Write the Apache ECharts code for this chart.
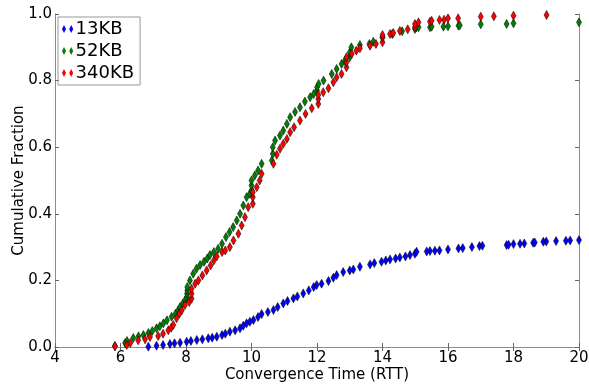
<!DOCTYPE html>
<html>
<head>
<meta charset="utf-8">
<script src="https://cdn.jsdelivr.net/npm/echarts@6/dist/echarts.min.js"></script>
<style>
  html, body { margin: 0; padding: 0; background: #fff; }
  #chart { width: 589px; height: 386px; }
</style>
</head>
<body>
<div id="chart"></div>
<script>
// values: [convergence time (RTT), cumulative fraction]
const names = ['13KB', '52KB', '340KB'];
const colors = ['#0000ff', '#008000', '#ff0000'];

const kb13 = [
  [6.85,0.001],[7.1,0.004],[7.3,0.006],[7.51,0.009],[7.65,0.011],[7.82,0.013],[8.02,0.016],[8.15,0.018],
  [8.33,0.021],[8.5,0.023],[8.68,0.026],[8.8,0.028],[8.94,0.031],[9.1,0.036],[9.2,0.04],[9.34,0.046],
  [9.5,0.05],[9.65,0.056],[9.75,0.064],[9.85,0.071],[9.95,0.076],[10.06,0.081],[10.2,0.09],[10.31,0.099],
  [10.5,0.105],[10.67,0.111],[10.8,0.12],[10.97,0.131],[11.1,0.138],[11.28,0.146],[11.4,0.152],[11.58,0.161],
  [11.75,0.17],[11.9,0.18],[11.99,0.186],[12.14,0.19],[12.35,0.198],[12.5,0.208],[12.6,0.216],[12.8,0.225],
  [13.0,0.23],[13.11,0.233],[13.31,0.241],[13.62,0.248],[13.75,0.252],[13.97,0.256],[14.1,0.26],[14.23,0.263],
  [14.4,0.266],[14.53,0.269],[14.7,0.272],[14.84,0.276],[14.99,0.28],[15.04,0.286],[15.35,0.287],[15.45,0.288],
  [15.6,0.289],[15.74,0.29],[16.0,0.293],[16.32,0.296],[16.45,0.297],[16.73,0.3],[16.96,0.303],[17.05,0.304],
  [17.79,0.306],[17.85,0.307],[18.0,0.309],[18.2,0.31],[18.33,0.311],[18.6,0.313],[18.65,0.314],[18.91,0.316],
  [19.0,0.317],[19.3,0.318],[19.6,0.319],[19.73,0.32],[20.0,0.321]
];

const kb52 = [
  [5.83,0.003],[6.14,0.012],[6.2,0.018],[6.39,0.027],[6.55,0.032],[6.7,0.036],[6.85,0.042],[6.97,0.048],
  [7.1,0.056],[7.2,0.062],[7.31,0.071],[7.42,0.08],[7.56,0.091],[7.68,0.1],[7.76,0.11],[7.82,0.12],
  [7.9,0.13],[7.97,0.14],[8.03,0.15],[8.03,0.16],[8.04,0.17],[8.04,0.18],[8.12,0.2],[8.22,0.22],
  [8.32,0.235],[8.43,0.246],[8.55,0.256],[8.65,0.266],[8.73,0.276],[8.85,0.285],[8.98,0.295],[9.1,0.31],
  [9.22,0.33],[9.33,0.345],[9.44,0.36],[9.55,0.38],[9.65,0.4],[9.75,0.425],[9.85,0.45],[9.95,0.46],
  [10.0,0.47],[10.0,0.485],[10.0,0.5],[10.1,0.515],[10.2,0.53],[10.31,0.55],[10.62,0.56],[10.65,0.58],
  [10.65,0.6],[10.72,0.62],[10.87,0.635],[10.97,0.65],[11.08,0.67],[11.18,0.69],[11.33,0.706],[11.48,0.72],
  [11.63,0.737],[11.79,0.75],[11.9,0.76],[12.0,0.77],[12.0,0.78],[12.05,0.79],[12.2,0.8],[12.45,0.82],
  [12.6,0.835],[12.75,0.85],[12.85,0.86],[13.0,0.87],[13.0,0.885],[13.05,0.9],[13.31,0.907],[13.6,0.91],
  [13.72,0.917],[14.0,0.93],[14.3,0.94],[14.6,0.948],[14.99,0.955],[15.04,0.96],[15.1,0.96],[15.45,0.96],
  [15.5,0.962],[15.86,0.962],[16.0,0.963],[16.32,0.965],[16.36,0.966],[17.0,0.969],[17.79,0.97],[18.0,0.972],
  [20.0,0.975]
];

const kb340 = [
  [5.83,0.002],[6.19,0.006],[6.3,0.012],[6.54,0.02],[6.75,0.023],[6.9,0.03],[7.15,0.033],[7.3,0.04],
  [7.46,0.05],[7.55,0.058],[7.61,0.066],[7.71,0.086],[7.8,0.1],[7.87,0.11],[7.97,0.126],[8.1,0.135],
  [8.17,0.145],[8.17,0.16],[8.17,0.175],[8.28,0.19],[8.38,0.2],[8.5,0.215],[8.63,0.23],[8.75,0.245],
  [8.85,0.26],[8.94,0.272],[9.1,0.285],[9.2,0.29],[9.34,0.3],[9.45,0.32],[9.6,0.34],[9.7,0.365],
  [9.8,0.39],[9.9,0.42],[10.04,0.43],[10.04,0.45],[10.04,0.465],[10.16,0.48],[10.25,0.5],[10.31,0.52],
  [10.67,0.55],[10.77,0.577],[10.87,0.595],[10.97,0.61],[11.08,0.625],[11.18,0.645],[11.3,0.66],[11.48,0.68],
  [11.65,0.7],[11.84,0.717],[12.04,0.73],[12.04,0.745],[12.04,0.757],[12.19,0.765],[12.35,0.777],[12.5,0.795],
  [12.6,0.81],[12.75,0.82],[12.9,0.84],[12.9,0.855],[12.9,0.87],[13.06,0.88],[13.2,0.89],[13.31,0.897],
  [13.62,0.905],[13.8,0.91],[14.0,0.915],[14.0,0.93],[14.0,0.937],[14.23,0.94],[14.33,0.943],[14.53,0.949],
  [14.77,0.954],[14.99,0.96],[14.99,0.97],[15.1,0.975],[15.45,0.977],[15.5,0.98],[15.74,0.982],[15.88,0.983],
  [16.0,0.987],[16.31,0.987],[17.0,0.992],[17.4,0.993],[18.0,0.995],[19.01,0.997]
];

const seriesData = [kb13, kb52, kb340];

const font = 'DejaVu Sans';
const axisGray = '#8c8c8c';
const twoDiamonds = 'path://M2.5,0 L5,5 L2.5,10 L0,5 Z M11.5,0 L14,5 L11.5,10 L9,5 Z';

const tickCfg = { show: true, inside: true, length: 4, lineStyle: { color: '#666', width: 1 } };

const myChart = echarts.init(document.getElementById('chart'), null, { renderer: 'canvas' });
myChart.setOption({
  animation: false,
  backgroundColor: '#fff',
  grid: { left: 55, right: 10, top: 14, bottom: 39, containLabel: false, outerBoundsMode: 'none' },
  legend: {
    data: names,
    orient: 'vertical',
    left: 58,
    top: 17,
    padding: [3, 6, 3, 4],
    itemGap: 4,
    itemWidth: 12,
    itemHeight: 8,
    icon: twoDiamonds,
    itemStyle: { borderWidth: 0 },
    borderColor: '#999',
    borderWidth: 1,
    textStyle: { fontFamily: font, fontSize: 18, color: '#000', padding: [0, 0, 0, -3] }
  },
  xAxis: [{
    type: 'value', min: 4, max: 20, interval: 2,
    name: 'Convergence Time (RTT)', nameLocation: 'middle', nameGap: 21, nameMoveOverlap: false,
    nameTextStyle: { fontFamily: font, fontSize: 15, color: '#000' },
    axisLine: { show: true, lineStyle: { color: axisGray } },
    axisTick: tickCfg,
    axisLabel: { fontFamily: font, fontSize: 15, color: '#000', margin: 4 },
    splitLine: { show: false }
  }, {
    type: 'value', min: 4, max: 20, interval: 2, position: 'top',
    axisLine: { show: true, lineStyle: { color: axisGray } },
    axisTick: tickCfg, axisLabel: { show: false }, splitLine: { show: false }
  }],
  yAxis: [{
    type: 'value', min: 0, max: 1, interval: 0.2,
    name: 'Cumulative Fraction', nameLocation: 'middle', nameGap: 28, nameMoveOverlap: false,
    nameTextStyle: { fontFamily: font, fontSize: 15, color: '#000' },
    axisLine: { show: true, lineStyle: { color: axisGray } },
    axisTick: tickCfg,
    axisLabel: { fontFamily: font, fontSize: 15, color: '#000', margin: 3, formatter: v => v.toFixed(1) },
    splitLine: { show: false }
  }, {
    type: 'value', min: 0, max: 1, interval: 0.2, position: 'right',
    axisLine: { show: true, lineStyle: { color: axisGray } },
    axisTick: tickCfg, axisLabel: { show: false }, splitLine: { show: false }
  }],
  series: names.map((n, i) => ({
    name: n,
    type: 'scatter',
    data: seriesData[i],
    symbol: 'diamond',
    symbolSize: [5, 9],
    clip: false,
    itemStyle: { color: colors[i], borderColor: '#000', borderWidth: 0.5, opacity: 1 }
  }))
});
</script>
</body>
</html>
